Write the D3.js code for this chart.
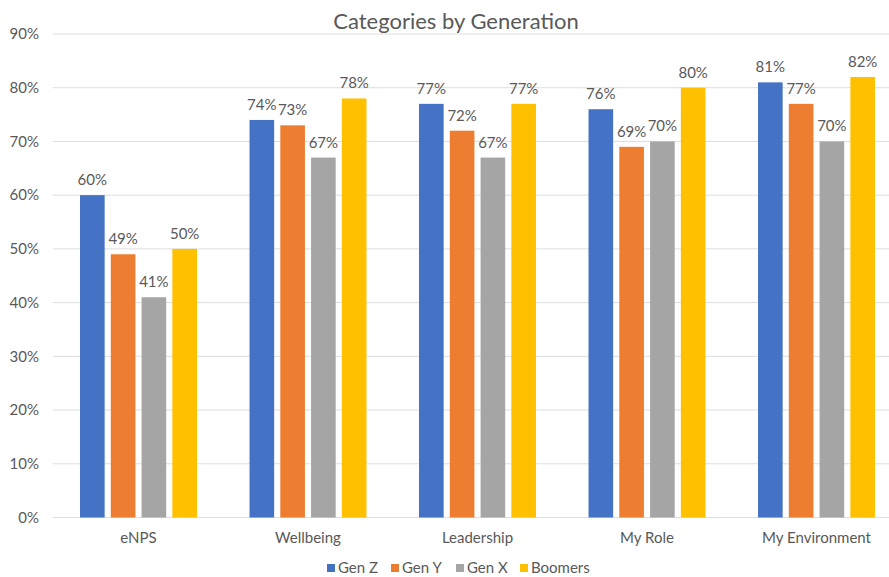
<!DOCTYPE html>
<html><head><meta charset="utf-8">
<script src="https://cdn.jsdelivr.net/npm/d3@7"></script>
<style>body{margin:0;background:#fff}svg{display:block}text{font-family:Lato,"Open Sans",sans-serif}</style>
</head><body><svg id="c" width="889" height="577"></svg>
<script>
const categories = ["eNPS","Wellbeing","Leadership","My Role","My Environment"];
const seriesNames = ["Gen Z","Gen Y","Gen X","Boomers"];
const genZ = [60,74,77,76,81];
const genY = [49,73,72,69,77];
const genX = [41,67,67,70,70];
const boomers = [50,78,77,80,82];
const colors = ["#4472C4","#ED7D31","#A5A5A5","#FFC000"];
const yTicks = [0,10,20,30,40,50,60,70,80,90];
const seriesValues = [genZ,genY,genX,boomers];

const svg = d3.select("#c");
const pLeft = 53.75, pRight = 901.25, pTop = 34, pBottom = 517.5;
const x0 = d3.scaleBand().domain(categories).range([pLeft,pRight]).paddingInner(0.31).paddingOuter(0.155);
const x1 = d3.scaleBand().domain(seriesNames).range([0,x0.bandwidth()]).paddingInner(0.2).paddingOuter(0);
const y = d3.scaleLinear().domain([0,90]).range([pBottom,pTop]);

svg.append("g").selectAll("line").data(yTicks).join("line")
  .attr("x1",pLeft-1).attr("x2",889).attr("y1",d=>y(d)).attr("y2",d=>y(d))
  .attr("stroke","#dedede").attr("stroke-width",1);

svg.append("g").selectAll("text").data(yTicks).join("text")
  .attr("x",39).attr("y",d=>y(d)).attr("dy","0.35em").attr("text-anchor","end")
  .attr("font-size",15).attr("fill","#595959").text(d=>d+"%");

const g = svg.append("g");
categories.forEach((c,ci)=>{
  seriesNames.forEach((s,si)=>{
    const v = seriesValues[si][ci];
    g.append("rect").attr("x",x0(c)+x1(s)).attr("y",y(v))
      .attr("width",x1.bandwidth()).attr("height",y(0)-y(v))
      .attr("fill",colors[si]);
    g.append("text").attr("x",x0(c)+x1(s)+x1.bandwidth()/2).attr("y",y(v)-10)
      .attr("text-anchor","middle").attr("font-size",15)
      .attr("fill","#595959").text(v+"%");
  });
});

svg.append("g").selectAll("text").data(categories).join("text")
  .attr("x",d=>x0(d)+x0.bandwidth()/2).attr("y",538).attr("dy","0.35em")
  .attr("text-anchor","middle").attr("font-size",15).attr("fill","#595959").text(d=>d);

svg.append("text").attr("x",456).attr("y",29).attr("text-anchor","middle")
  .attr("font-size",22).attr("fill","#595959").text("Categories by Generation");

const legX = [327,391,456,520];
const lg = svg.append("g");
seriesNames.forEach((s,i)=>{
  lg.append("rect").attr("x",legX[i]).attr("y",564).attr("width",8).attr("height",8).attr("fill",colors[i]);
  lg.append("text").attr("x",legX[i]+11).attr("y",568).attr("dy","0.35em").attr("font-size",15)
    .attr("fill","#595959").text(s);
});
</script></body></html>
